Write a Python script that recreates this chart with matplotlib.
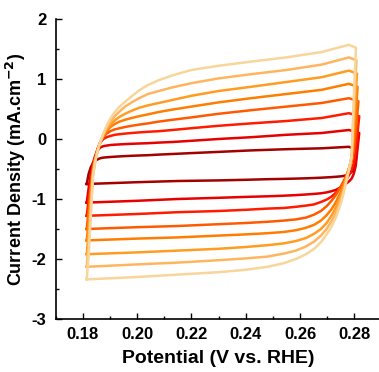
import numpy as np
import matplotlib
matplotlib.use("Agg")
from matplotlib import pyplot as plt
from matplotlib.ticker import MultipleLocator

plt.rcParams["font.family"] = ["Liberation Sans", "DejaVu Sans"]
plt.rcParams["font.weight"] = "bold"
plt.rcParams["axes.unicode_minus"] = False

# forward (anodic) scan, x grid shared by all loops
ux = [0.1815, 0.1822, 0.1830, 0.1838, 0.1846, 0.1855, 0.1865, 0.1876, 0.1888, 0.1902,
      0.1918, 0.1936, 0.1956, 0.1980, 0.2008, 0.2040, 0.2080, 0.2130, 0.2200, 0.2300,
      0.2420, 0.2550, 0.2680, 0.2780]
# reverse (cathodic) scan, x grid shared by all loops
lx = [0.2805, 0.2798, 0.2790, 0.2782, 0.2774, 0.2765, 0.2755, 0.2744, 0.2731, 0.2716,
      0.2698, 0.2677, 0.2652, 0.2622, 0.2585, 0.2540, 0.2480, 0.2400, 0.2300, 0.2150,
      0.2000, 0.1815]

up = [
    [-0.75, -0.58, -0.47, -0.40, -0.36, -0.34, -0.32, -0.31, -0.305, -0.30, -0.295, -0.29,
     -0.285, -0.28, -0.275, -0.27, -0.26, -0.25, -0.235, -0.215, -0.19, -0.17, -0.155, -0.13],
    [-1.06, -0.82, -0.58, -0.40, -0.28, -0.19, -0.14, -0.12, -0.11, -0.10, -0.095, -0.09,
     -0.085, -0.08, -0.075, -0.07, -0.06, -0.05, -0.03, 0.00, 0.03, 0.07, 0.10, 0.15],
    [-1.28, -1.00, -0.70, -0.44, -0.30, -0.16, -0.06, 0.00, 0.03, 0.05, 0.07, 0.08,
     0.09, 0.10, 0.11, 0.12, 0.13, 0.15, 0.18, 0.22, 0.26, 0.30, 0.35, 0.43],
    [-1.50, -1.18, -0.80, -0.48, -0.32, -0.17, -0.05, 0.03, 0.09, 0.13, 0.16, 0.18,
     0.20, 0.22, 0.24, 0.26, 0.29, 0.32, 0.36, 0.42, 0.48, 0.54, 0.60, 0.68],
    [-1.69, -1.35, -0.90, -0.52, -0.34, -0.18, -0.05, 0.05, 0.13, 0.20, 0.25, 0.29,
     0.32, 0.35, 0.38, 0.41, 0.45, 0.49, 0.54, 0.61, 0.68, 0.75, 0.82, 0.92],
    [-1.92, -1.55, -1.02, -0.57, -0.36, -0.19, -0.05, 0.06, 0.15, 0.24, 0.31, 0.37,
     0.42, 0.47, 0.52, 0.56, 0.60, 0.65, 0.72, 0.80, 0.87, 0.95, 1.03, 1.14],
    [-2.13, -1.75, -1.15, -0.60, -0.38, -0.20, -0.05, 0.08, 0.19, 0.29, 0.38, 0.46,
     0.54, 0.61, 0.68, 0.75, 0.80, 0.86, 0.93, 1.01, 1.08, 1.15, 1.24, 1.36],
    [-2.34, -1.95, -1.29, -0.62, -0.38, -0.20, -0.05, 0.09, 0.22, 0.34, 0.45, 0.54,
     0.62, 0.71, 0.81, 0.90, 0.98, 1.06, 1.15, 1.22, 1.29, 1.36, 1.45, 1.57],
]
down = [
    [-0.40, -0.50, -0.55, -0.58, -0.60, -0.61, -0.62, -0.625, -0.63, -0.635, -0.64,
     -0.645, -0.65, -0.655, -0.66, -0.665, -0.67, -0.68, -0.69, -0.70, -0.72, -0.75],
    [-0.45, -0.58, -0.66, -0.70, -0.73, -0.76, -0.79, -0.82, -0.85, -0.87, -0.89,
     -0.905, -0.915, -0.925, -0.935, -0.945, -0.955, -0.965, -0.98, -1.00, -1.03, -1.06],
    [-0.20, -0.40, -0.52, -0.59, -0.65, -0.71, -0.77, -0.83, -0.90, -0.96, -1.01,
     -1.05, -1.09, -1.11, -1.13, -1.15, -1.16, -1.18, -1.20, -1.22, -1.25, -1.28],
    [0.10, -0.20, -0.38, -0.48, -0.57, -0.66, -0.75, -0.84, -0.94, -1.03, -1.12,
     -1.20, -1.26, -1.31, -1.34, -1.36, -1.38, -1.40, -1.42, -1.45, -1.47, -1.50],
    [0.40, 0.00, -0.32, -0.46, -0.58, -0.70, -0.82, -0.94, -1.06, -1.17, -1.27,
     -1.36, -1.43, -1.48, -1.52, -1.55, -1.57, -1.59, -1.61, -1.64, -1.66, -1.69],
    [0.75, 0.25, -0.30, -0.46, -0.60, -0.74, -0.88, -1.02, -1.15, -1.28, -1.40,
     -1.50, -1.58, -1.65, -1.70, -1.74, -1.77, -1.80, -1.83, -1.86, -1.89, -1.92],
    [1.10, 0.45, -0.30, -0.47, -0.62, -0.78, -0.94, -1.09, -1.24, -1.37, -1.50,
     -1.61, -1.71, -1.79, -1.86, -1.91, -1.96, -1.99, -2.02, -2.06, -2.09, -2.13],
    [1.40, 0.70, -0.30, -0.48, -0.64, -0.82, -1.00, -1.16, -1.32, -1.46, -1.59,
     -1.72, -1.83, -1.92, -2.00, -2.07, -2.13, -2.18, -2.22, -2.26, -2.30, -2.34],
]
# x of the turning point at the positive end
turn_x = [0.2808, 0.2818, 0.2818, 0.2815, 0.2812, 0.2810, 0.2808, 0.2806]

colors = ["#a30000", "#e60000", "#ff1a00", "#ff5a00", "#ff7d00", "#ff9c22", "#ffb560", "#f8d59a"]

fig = plt.figure(figsize=(3.79, 3.72), dpi=100)
ax = fig.add_axes([55.5 / 379, 1 - 319 / 372, 326 / 379, 300 / 372])

for i in range(len(up)):
    xs = list(ux) + [turn_x[i]] + list(lx)
    ys = list(up[i]) + [up[i][-1] - 0.05] + list(down[i])
    ax.plot(xs, ys, color=colors[i], lw=1.8, solid_joinstyle="round")

ax.set_xlim(0.17, 0.29)
ax.set_ylim(-3, 2)
ax.set_xticks([0.18, 0.20, 0.22, 0.24, 0.26, 0.28])
ax.set_yticks([-3, -2, -1, 0, 1, 2])
ax.xaxis.set_minor_locator(MultipleLocator(0.01))
ax.yaxis.set_minor_locator(MultipleLocator(0.5))
ax.tick_params(which="both", direction="in", width=1.0, labelsize=12)
ax.tick_params(axis="x", pad=6)
ax.tick_params(axis="y", pad=6.5)
ax.tick_params(which="major", length=4)
ax.tick_params(which="minor", length=2.5)
for s in ["top", "right"]:
    ax.spines[s].set_visible(False)
for s in ["left", "bottom"]:
    ax.spines[s].set_linewidth(1.2)
for lab in ax.get_xticklabels() + ax.get_yticklabels():
    lab.set_fontweight("bold")

ax.set_xlabel("Potential (V vs. RHE)", fontsize=14, fontweight="bold")
ax.set_ylabel("Current Density (mA.cm$^{\\mathbf{-2}}$)", fontsize=13, fontweight="bold")
ax.xaxis.set_label_coords(0.5, -0.103)
ax.yaxis.set_label_coords(-0.085, 0.5)

fig.savefig("out.png", dpi=100)
